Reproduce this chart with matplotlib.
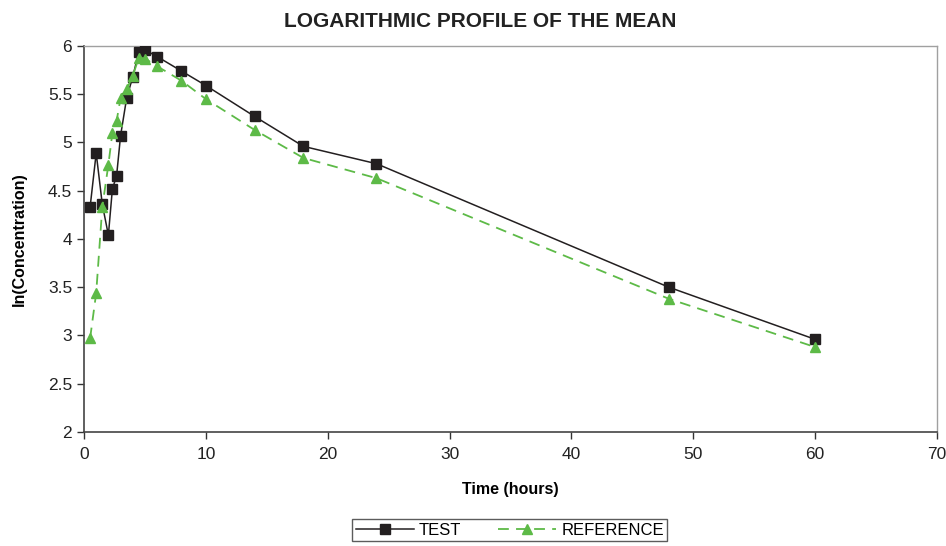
import matplotlib
matplotlib.use("Agg")
import matplotlib.pyplot as plt

plt.rcParams['font.family'] = ['Liberation Sans', 'DejaVu Sans']

# sampling times (hours)
time_h = [0.5, 1, 1.5, 2, 2.33, 2.67, 3, 3.5, 4, 4.5, 5, 6, 8, 10, 14, 18, 24, 48, 60]
# ln(concentration) of the mean
test = [4.33, 4.89, 4.36, 4.04, 4.52, 4.65, 5.07, 5.46, 5.68, 5.94, 5.96, 5.89,
        5.74, 5.59, 5.27, 4.96, 4.78, 3.50, 2.96]
reference = [2.97, 3.44, 4.33, 4.77, 5.10, 5.22, 5.46, 5.55, 5.69, 5.88, 5.87, 5.79,
             5.64, 5.45, 5.13, 4.84, 4.63, 3.38, 2.88]

fig = plt.figure(figsize=(9.46, 5.46), dpi=100)
ax = fig.add_axes([0.0888, 0.2088, 0.9017, 0.707])

ax.plot(time_h, test, color='#231f20', lw=1.1, marker='s', ms=7,
        label='TEST', zorder=3)
ax.plot(time_h, reference, color='#5dba47', lw=1.3, ls=(0, (6, 4)), marker='^',
        ms=7.5, label='REFERENCE', zorder=4)

ax.set_xlim(0, 70)
ax.set_ylim(2, 6)
ax.set_xticks(range(0, 71, 10))
ax.set_yticks([2, 2.5, 3, 3.5, 4, 4.5, 5, 5.5, 6])
ax.set_yticklabels(['2', '2.5', '3', '3.5', '4', '4.5', '5', '5.5', '6'])
ax.tick_params(direction='out', length=5, width=1, labelsize=12.5,
               colors='#333333', labelcolor='#222222')
ax.tick_params(axis='x', pad=6)

for side in ['left', 'bottom']:
    ax.spines[side].set_color('#444444')
    ax.spines[side].set_linewidth(1.2)
for side in ['top', 'right']:
    ax.spines[side].set_color('#a0a0a0')
    ax.spines[side].set_linewidth(1)

ax.set_xlabel('Time (hours)', fontsize=11.5, fontweight='bold', labelpad=14)
ax.set_ylabel('ln(Concentration)', fontsize=11.5, fontweight='bold', labelpad=15)
fig.text(0.508, 0.96, 'LOGARITHMIC PROFILE OF THE MEAN', fontsize=15,
         fontweight='bold', color='#222222', ha='center', va='center')

leg = fig.legend(loc='upper center', bbox_to_anchor=(0.539, 0.049), ncol=2,
                 fontsize=12, frameon=True, fancybox=False, handlelength=3.5,
                 columnspacing=2.2, borderpad=0.2, borderaxespad=0,
                 handletextpad=0.3)
leg.get_frame().set_edgecolor('#333333')
leg.get_frame().set_linewidth(1)

fig.savefig('out.png', dpi=100, facecolor='white')
